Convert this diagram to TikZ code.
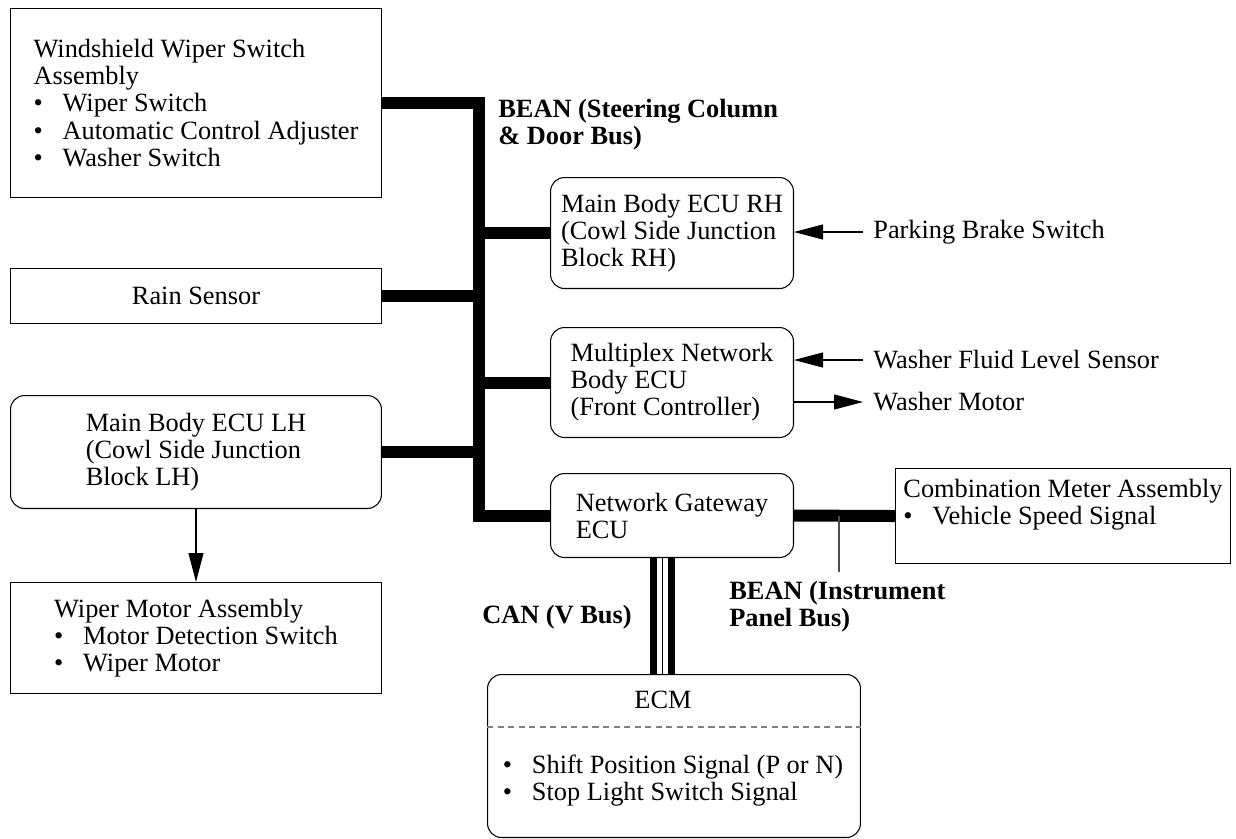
\documentclass[tikz,border=0pt]{standalone}
\usepackage{fontspec}
\setmainfont{Liberation Serif}
\usetikzlibrary{arrows.meta}

\newcommand{\itm}{\makebox[0.58cm][l]{\textbullet}}

\begin{document}
\begin{tikzpicture}[x=0.02cm, y=-0.02cm,
    font=\fontsize{15}{15.4}\selectfont,
    box/.style={draw, line width=0.6pt, align=left, inner sep=0pt, anchor=north west},
    rbox/.style={box, rounded corners=0.28cm},
    bus/.style={line width=0.24cm, line join=miter},
    arr/.style={line width=0.6pt, -{Triangle[length=0.58cm, width=0.3cm]}},
    lbl/.style={inner sep=0.2cm, anchor=west},
    buslbl/.style={font=\fontsize{15}{15.4}\selectfont\bfseries, align=left, inner sep=0pt}]

    \useasboundingbox (0,0) rectangle (1236,838);

    % left column
    \node[box, minimum width=7.42cm, minimum height=3.78cm] (ws) at (10,8)
        {Windshield Wiper Switch\\Assembly\\\itm Wiper Switch\\\itm Automatic Control Adjuster\\\itm Washer Switch};
    \node[box, minimum width=7.42cm, minimum height=1.10cm] (rs) at (10,268) {Rain Sensor};
    \node[rbox, minimum width=7.42cm, minimum height=2.26cm] (lh) at (10,395)
        {Main Body ECU LH\\(Cowl Side Junction\\Block LH)};
    \node[box, minimum width=7.42cm, minimum height=2.22cm] (wmot) at (10,582)
        {Wiper Motor Assembly\\\itm Motor Detection Switch\\\itm Wiper Motor};

    % middle column
    \node[rbox, minimum width=4.86cm, minimum height=2.22cm] (rh) at (550,177)
        {Main Body ECU RH\\(Cowl Side Junction\\Block RH)};
    \node[rbox, minimum width=4.86cm, minimum height=2.20cm] (mx) at (550,327)
        {Multiplex Network\\Body ECU\\(Front Controller)};
    \node[rbox, minimum width=4.86cm, minimum height=1.68cm] (gw) at (550,473)
        {Network Gateway\\ECU};

    % combination meter
    \node[box, minimum width=6.7cm, minimum height=1.90cm] (cm) at (895,468) {};
    \node[align=left, inner sep=0pt] (cmtxt) at (1063,505)
        {Combination Meter Assembly\\\itm Vehicle Speed Signal};

    % ECM
    \node[rbox, minimum width=7.46cm, minimum height=3.26cm] (ecm) at (487,674) {};
    \node[inner sep=0pt] (ecmtxt) at (663,700) {ECM};
    \coordinate (ecmdash) at (0,727);
    \draw[gray, line width=0.6pt, dash pattern=on 3.5pt off 2.5pt] (ecm.west |- ecmdash) -- (ecm.east |- ecmdash);
    \node[align=left, inner sep=0pt] (ecmsig) at (673,781)
        {\itm Shift Position Signal (P or N)\\\itm Stop Light Switch Signal};

    % BEAN steering column bus
    \coordinate (bx) at (479,0);
    \draw[bus] (ws.east) -| (bx |- gw.west) -- (gw.west);
    \draw[bus] (rs.east) -- (rs.east -| bx);
    \draw[bus] (lh.east) -- (lh.east -| bx);
    \draw[bus] (bx |- rh.west) -- (rh.west);
    \draw[bus] (bx |- mx.west) -- (mx.west);
    \node[buslbl, anchor=west] (bsc) at (498,125) {BEAN (Steering Column\\\& Door Bus)};

    % BEAN instrument panel bus
    \draw[bus] (gw.east) -- (cm.west);
    \node[buslbl, anchor=west] (bip) at (729,607) {BEAN (Instrument\\Panel Bus)};
    \coordinate (biptap) at (839,516);
    \draw[line width=0.6pt, gray!60!black, shorten >=0.18cm] (biptap) -- (biptap |- bip.north);

    % CAN
    \coordinate (canl) at (653.5,0);
    \coordinate (canm) at (662.5,0);
    \coordinate (canr) at (671.5,0);
    \draw[line width=0.14cm] (canl |- gw.south) -- (canl |- ecm.north);
    \draw[line width=0.8pt] (canm |- gw.south) -- (canm |- ecm.north);
    \draw[line width=0.14cm] (canr |- gw.south) -- (canr |- ecm.north);
    \node[buslbl, anchor=east] (canlbl) at (632,617) {CAN (V Bus)};

    % signals
    \node[lbl] (pbs) at (863,232) {Parking Brake Switch};
    \node[lbl] (wfl) at (863,360) {Washer Fluid Level Sensor};
    \node[lbl] (wmo) at (863,402) {Washer Motor};
    \draw[arr] (pbs.west) -- (pbs.west -| rh.east);
    \draw[arr] (wfl.west) -- (wfl.west -| mx.east);
    \draw[arr] (wmo.west -| mx.east) -- (wmo.west);
    \draw[arr] (lh.south) -- (wmot.north);

\end{tikzpicture}
\end{document}
